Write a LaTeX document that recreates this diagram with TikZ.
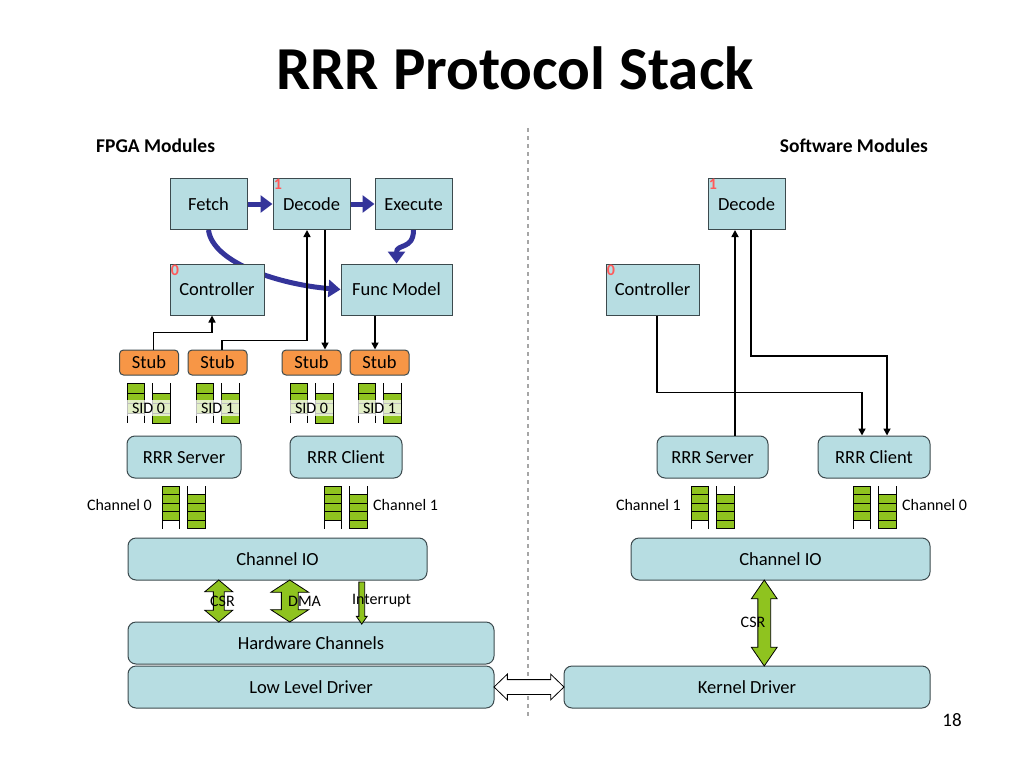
\documentclass[tikz,border=0pt]{standalone}
\usepackage{fontspec}
\setmainfont{Carlito}
\usetikzlibrary{arrows.meta,shapes.arrows,backgrounds,calc}

\definecolor{modfill}{HTML}{B7DDE2}
\definecolor{modline}{HTML}{3C4A4E}
\definecolor{stubfill}{HTML}{F79646}
\definecolor{qgreen}{HTML}{8FC31F}
\definecolor{flowblue}{HTML}{34349A}
\definecolor{idxred}{HTML}{FF5A5A}

% two-column fifo: #1 left x, #2 top y, #3 filled cells, #4 cell height
\newcommand{\fifo}[4]{%
  \foreach \c in {1,...,#3} {
    \filldraw[qcell] (#1,{#2+(\c-1)*#4}) rectangle ++(17,#4);
    \filldraw[qcell] (#1+25,{#2+\c*#4}) rectangle ++(18,#4);
  }
  \foreach \s in {0,17,25,43}
    \draw[qside] (#1+\s,#2) -- ++(0,{(#3+1)*#4});
}

\begin{document}
\begin{tikzpicture}[x=1pt,y=-1pt,
    module/.style={draw=modline,line width=1pt,fill=modfill,minimum height=51pt,inner sep=0pt,text height=12.5pt,text depth=0pt,font=\fontsize{18.5}{22}\selectfont},
    stackbox/.style={module,rounded corners=8pt,minimum height=42pt},
    stubbox/.style={draw=modline,line width=1pt,fill=stubfill,rounded corners=4pt,minimum width=59pt,minimum height=25pt,inner sep=0pt,text height=12.5pt,text depth=0pt,font=\fontsize{18.5}{22}\selectfont},
    idx/.style={text=idxred,font=\bfseries\fontsize{16}{18}\selectfont,inner sep=1.2pt,anchor=north west},
    chlabel/.style={font=\fontsize{16}{19}\selectfont,inner sep=0pt},
    sid/.style={chlabel,fill=white,fill opacity=0.75,text opacity=1,inner xsep=5pt,inner ysep=3pt},
    flow/.style={flowblue,line width=5pt,-{Triangle[length=12pt,width=17pt]}},
    link/.style={line width=1.6pt,-{Triangle[length=7pt,width=7pt]}},
    qcell/.style={fill=qgreen,draw=black,line width=0.8pt},
    qside/.style={line width=0.8pt},
    fat/.style={double arrow,draw=black,line width=0.8pt,fill=qgreen,inner xsep=0pt},
    divider/.style={gray!70,line width=2pt,dash pattern=on 4pt off 4pt}]
  \useasboundingbox (0,0) rectangle (1024,768);

  \node[font=\bfseries\fontsize{61}{72}\selectfont] (title) at (515,68) {RRR Protocol Stack};
  \node[font=\bfseries\fontsize{19.5}{22}\selectfont,inner sep=0pt,anchor=west] (fpgahead) at (96,146) {FPGA Modules};
  \node[font=\bfseries\fontsize{19.5}{22}\selectfont,inner sep=0pt,anchor=east] (swhead) at (928,146) {Software Modules};

  \coordinate (divtop) at (528,128);
  \coordinate (divbot) at (528,718);
  \draw[divider] (divtop) -- (divbot);

  % FPGA side
  \node[module,minimum width=77pt] (fetch) at (208.5,204) {Fetch};
  \node[module,minimum width=77pt] (decode) at (311.5,204) {Decode};
  \node[module,minimum width=77pt] (exec) at (413.5,204) {Execute};
  \node[module,minimum width=94pt] (ctrl) at (217,289.5) {Controller};
  \node[module,minimum width=111pt] (func) at (396.5,289.5) {Func Model};
  \node[idx] (decodeidx) at (decode.north west) {1};
  \node[idx] (ctrlidx) at (ctrl.north west) {0};

  \draw[flow] (fetch.east) -- (decode.west);
  \draw[flow] (decode.east) -- (exec.west);
  \draw[flow] (exec.south) .. controls +(0,20) and +(0,-20) .. (func.north);
  \begin{scope}[on background layer]
    \draw[flow] (fetch.south) .. controls +(4,33) and +(-61,-5) .. (func.west);
  \end{scope}

  \node[stubbox] (stuba) at (149,362.5) {Stub};
  \node[stubbox] (stubb) at (217.5,362.5) {Stub};
  \node[stubbox] (stubc) at (311.5,362.5) {Stub};
  \node[stubbox] (stubd) at (379.5,362.5) {Stub};

  \draw[link] ([xshift=4.5pt]stuba.north) -- ++(0,-17) -| ([xshift=-5pt]ctrl.south);
  \draw[link] ([xshift=4.5pt]stubb.north) -- ++(0,-9) -| ([xshift=-4.5pt]decode.south);
  \draw[link] ([xshift=13.5pt]decode.south) -- ([xshift=13.5pt]decode.south |- stubc.north);
  \draw[link] ([xshift=-4.5pt]stubd.north |- func.south) -- ([xshift=-4.5pt]stubd.north);

  \fifo{127}{383}{3}{10}
  \fifo{196}{383}{3}{10}
  \fifo{290}{383}{3}{10}
  \fifo{358}{383}{3}{10}
  \node[sid] (sida) at (148.5,408) {SID 0};
  \node[sid] (sidb) at (217.5,408) {SID 1};
  \node[sid] (sidc) at (311.5,408) {SID 0};
  \node[sid] (sidd) at (379.5,408) {SID 1};

  \node[stackbox,minimum width=114pt] (server) at (184,457) {RRR Server};
  \node[stackbox,minimum width=112pt] (client) at (346,457) {RRR Client};

  \fifo{162}{486}{4}{8.5}
  \fifo{324}{486}{4}{8.5}
  \node[chlabel,anchor=east] (ch0lbl) at (152,505) {Channel 0};
  \node[chlabel,anchor=west] (ch1lbl) at (373,505) {Channel 1};

  \node[stackbox,minimum width=299pt] (chio) at (277.5,559) {Channel IO};
  \node[stackbox,minimum width=366pt] (hwch) at (311,643) {Hardware Channels};
  \node[stackbox,minimum width=366pt] (lld) at (311,687) {Low Level Driver};

  \node[fat,rotate=90,minimum height=42pt,inner ysep=5pt,double arrow head extend=8.5pt,double arrow tip angle=100] (csrarrow) at ($(chio.south)!0.5!(hwch.north)+(-75.5,0)$) {};
  \node[fat,rotate=90,minimum height=42pt,inner ysep=8pt,double arrow head extend=10.5pt,double arrow tip angle=114] (dmaarrow) at ($(chio.south)!0.5!(hwch.north)+(-4.5,0)$) {};
  \node[fat,single arrow,rotate=-90,minimum height=42pt,inner ysep=2.5pt,single arrow head extend=2.5pt,single arrow tip angle=70] (intarrow) at ($(chio.south)!0.5!(hwch.north)+(67.5,0)$) {};
  \node[chlabel,anchor=west] (csrlbl) at (210,601) {CSR};
  \node[chlabel,anchor=west] (dmalbl) at (288,601) {DMA};
  \node[chlabel,anchor=west] (intlbl) at (352,601) {Interrupt};

  % software side
  \node[module,minimum width=77pt] (rdecode) at (746.5,204) {Decode};
  \node[module,minimum width=93pt] (rctrl) at (652.5,289.5) {Controller};
  \node[idx] (rdecodeidx) at (rdecode.north west) {1};
  \node[idx] (rctrlidx) at (rctrl.north west) {0};

  \node[stackbox,minimum width=111pt] (rserver) at (712.5,457) {RRR Server};
  \node[stackbox,minimum width=112pt] (rclient) at (874,457) {RRR Client};

  \draw[link] ([xshift=4.5pt]rctrl.south) -- ++(0,77) -| ([xshift=-12pt]rclient.north);
  \draw[link] ([xshift=22.5pt]rserver.north) -- ([xshift=22.5pt]rserver.north |- rdecode.south);
  \draw[link] ([xshift=4.5pt]rdecode.south) -- ++(0,126) -| ([xshift=13pt]rclient.north);

  \fifo{691}{486}{4}{8.5}
  \fifo{853}{486}{4}{8.5}
  \node[chlabel,anchor=east] (rch1lbl) at (681,505) {Channel 1};
  \node[chlabel,anchor=west] (rch0lbl) at (902,505) {Channel 0};

  \node[stackbox,minimum width=299pt] (rchio) at (780.5,559) {Channel IO};
  \node[stackbox,minimum width=366pt] (kern) at (747,687) {Kernel Driver};

  \node[fat,rotate=90,minimum height=86pt,inner ysep=6pt,double arrow head extend=6.5pt,double arrow tip angle=69] (rcsrarrow) at ($(rchio.south)!0.5!(kern.north)+(0.5,0)$) {};
  \node[chlabel] (rcsrlbl) at (753,622) {CSR};

  \node[fat,fill=white,minimum height=70pt,inner ysep=7pt,double arrow head extend=5.5pt,double arrow tip angle=88] (linkarrow) at ($(lld.east)!0.5!(kern.west)$) {};

  \node[font=\fontsize{19}{22}\selectfont] (pagenum) at (952,720) {18};
\end{tikzpicture}
\end{document}
